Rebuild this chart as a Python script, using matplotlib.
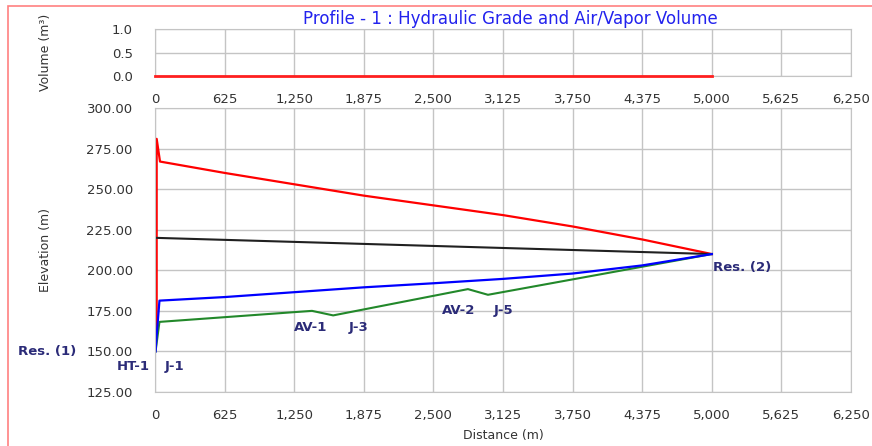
import matplotlib.pyplot as plt
from matplotlib.patches import Rectangle

plt.rcParams['font.family'] = ['DejaVu Sans']

# x ticks shared by both panels
x_ticks = [0, 625, 1250, 1875, 2500, 3125, 3750, 4375, 5000, 5625, 6250]
x_labels = ['0', '625', '1,250', '1,875', '2,500', '3,125', '3,750', '4,375', '5,000', '5,625', '6,250']

# air/vapor volume
vol_x = [0, 5000]
vol_y = [0.0, 0.0]

# maximum hydraulic grade (red)
max_x = [15, 15, 45, 625, 1250, 1875, 2500, 3125, 3750, 4375, 5000]
max_y = [160, 281, 267, 260, 253, 246, 240, 234, 227, 219, 210]

# steady hydraulic grade (black)
hgl_x = [0, 5000]
hgl_y = [220, 210]

# minimum hydraulic grade (blue)
min_x = [5, 15, 40, 625, 1250, 1875, 2500, 3125, 3750, 4375, 5000]
min_y = [150, 160, 181.3, 183.5, 186.5, 189.5, 192, 194.7, 198, 203, 210]

# pipe elevation profile (green)
elev_x = [5, 40, 1410, 1600, 2810, 2990, 5000]
elev_y = [150, 168.2, 175, 172.2, 188.4, 184.9, 210]

# node labels: text, x, y, alignment
node_names = ['Res. (1)', 'HT-1', 'J-1', 'AV-1', 'J-3', 'AV-2', 'J-5', 'Res. (2)']
node_x = [-705, -45, 90, 1400, 1830, 2730, 3125, 5010]
node_y = [150, 140.5, 140.5, 165, 165, 175, 175, 201.5]
node_ha = ['right', 'right', 'left', 'center', 'center', 'center', 'center', 'left']

tick_color = '#333333'
grid_color = '#c4c4c4'
label_color = '#2b2b78'

fig = plt.figure(figsize=(8.72, 4.46), dpi=100)
fig.patches.append(Rectangle((8 / 872, -0.1), 1.2, 1 - 6 / 446 + 0.1, transform=fig.transFigure,
                             fill=False, edgecolor='#ff8080', linewidth=1.2))

ax_top = fig.add_axes([155 / 872, 1 - 76 / 446, 696 / 872, 47 / 446])
ax = fig.add_axes([155 / 872, 1 - 392 / 446, 696 / 872, 284 / 446])

for a in (ax_top, ax):
    a.set_xlim(0, 6250)
    a.set_xticks(x_ticks)
    a.set_xticklabels(x_labels)
    a.grid(True, color=grid_color, linewidth=1)
    a.set_axisbelow(True)
    a.tick_params(length=0, labelsize=9.5, labelcolor=tick_color, pad=12)
    a.tick_params(axis='y', pad=16)
    for s in a.spines.values():
        s.set_color(grid_color)

ax_top.plot(vol_x, vol_y, color='#ff2020', linewidth=2, clip_on=False, zorder=3)
ax_top.set_ylim(0, 1.0)
ax_top.set_yticks([0, 0.5, 1.0])
ax_top.set_yticklabels(['0.0', '0.5', '1.0'])
ax_top.set_ylabel('Volume (m³)', fontsize=9, color=tick_color)
ax_top.yaxis.set_label_coords(-0.148, 0.5)

ax.plot(max_x, max_y, color='#ff0000', linewidth=1.6)
ax.plot(hgl_x, hgl_y, color='#202020', linewidth=1.5)
ax.plot(elev_x, elev_y, color='#22882a', linewidth=1.5)
ax.plot(min_x, min_y, color='#0000ff', linewidth=1.6)
ax.set_ylim(125, 300)
ax.set_yticks([125, 150, 175, 200, 225, 250, 275, 300])
ax.set_yticklabels(['%.2f' % v for v in [125, 150, 175, 200, 225, 250, 275, 300]])
ax.set_ylabel('Elevation (m)', fontsize=9, color=tick_color)
ax.yaxis.set_label_coords(-0.148, 0.5)
ax.set_xlabel('Distance (m)', fontsize=9, color=tick_color, labelpad=5)

for name, nx, ny, ha in zip(node_names, node_x, node_y, node_ha):
    ax.text(nx, ny, name, ha=ha, va='center', fontsize=9.5, fontweight='bold',
            color=label_color, clip_on=False)

fig.text(0.585, 1 - 19 / 446, 'Profile - 1 : Hydraulic Grade and Air/Vapor Volume',
         ha='center', va='center', fontsize=12, color='#2222ee')

fig.savefig('out.png', dpi=100)
